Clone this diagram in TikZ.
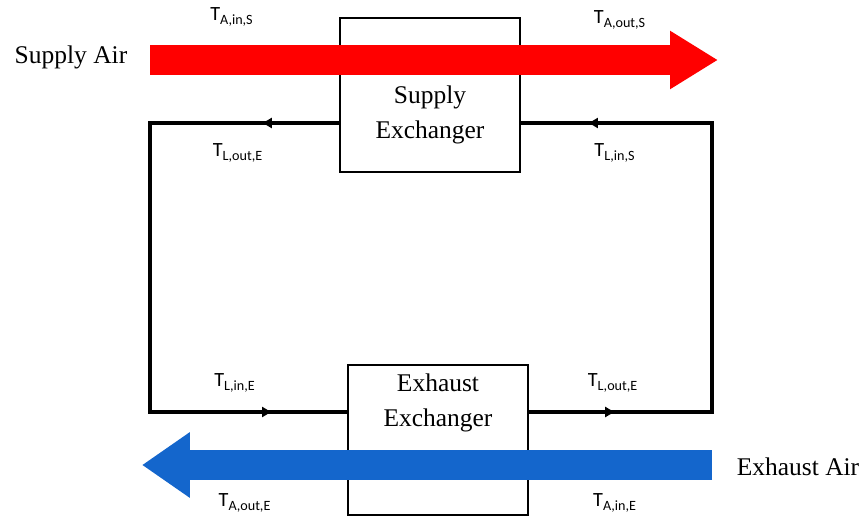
\documentclass[tikz,border=0pt]{standalone}
\usepackage{fontspec}
\setmainfont{Liberation Serif}
\newfontfamily\labelfont{Carlito}
\usetikzlibrary{arrows.meta,positioning,calc,decorations.markings}
\definecolor{supplyred}{RGB}{255,0,0}
\definecolor{exhaustblue}{RGB}{20,102,204}

\begin{document}
\begin{tikzpicture}[x=0.02cm, y=-0.02cm,
    exch/.style={rectangle, draw, fill=white, line width=0.9pt, minimum width=3.6cm, inner sep=0pt},
    exchtext/.style={align=center, font=\fontsize{14.5}{20}\selectfont},
    air/.style={font=\fontsize{14.5}{17}\selectfont},
    temp/.style={font=\labelfont\fontsize{11.5}{13}\selectfont, inner sep=1pt},
    loopline/.style={line width=1.9pt},
    flowtip/.style={postaction={decorate, decoration={markings, mark=at position #1 with {\arrow{Latex[length=6pt,width=6.5pt]}}}}},
    airstream/.style={line width=0.6cm},
]
    \useasboundingbox (0,0) rectangle (865,523);

    % exchangers
    \node[exch, minimum height=3.08cm] (sup) at (430,95) {};
    \node[exchtext] (suptext) at (430,115) {Supply\\Exchanger};
    \node[exch, minimum height=3.0cm] (exh) at (438,440) {};
    \node[exchtext] (exhtext) at (438,403) {Exhaust\\Exchanger};

    % loop corners
    \coordinate (tl) at (150,123);
    \coordinate (tr) at (712,123);
    \coordinate (bl) at (150,412);
    \coordinate (br) at (712,412);

    \draw[loopline, flowtip=1.56cm, flowtip=12.02cm] (sup.west |- tl) -- (tl) -- (bl) -- (exh.west |- bl);
    \draw[loopline, flowtip=1.74cm, flowtip=11.94cm] (exh.east |- br) -- (br) -- (tr) -- (sup.east |- tr);

    % air streams
    \coordinate (supin) at (150,60);
    \coordinate (supout) at (718,60);
    \coordinate (exhin) at (712,465);
    \coordinate (exhout) at (142,465);
    \draw[airstream, supplyred, -{Triangle[length=0.96cm, width=1.1cm]}] (supin) -- (supout);
    \draw[airstream, exhaustblue, -{Triangle[length=0.96cm, width=1.25cm]}] (exhin) -- (exhout);

    \node[air] (supair) at (71,57) {Supply Air};
    \node[air] (exhair) at (798,467) {Exhaust Air};

    % temperatures
    \node[temp] (tain) at (232,17) {T\textsubscript{A,in,S}};
    \node[temp] (taout) at (620,20) {T\textsubscript{A,out,S}};
    \node[temp] (tloute) at (238,153) {T\textsubscript{L,out,E}};
    \node[temp] (tlins) at (615,153) {T\textsubscript{L,in,S}};
    \node[temp] (tline) at (235,383) {T\textsubscript{L,in,E}};
    \node[temp] (tlouteb) at (613,383) {T\textsubscript{L,out,E}};
    \node[temp] (taoute) at (245,503) {T\textsubscript{A,out,E}};
    \node[temp] (taine) at (615,503) {T\textsubscript{A,in,E}};
\end{tikzpicture}
\end{document}
